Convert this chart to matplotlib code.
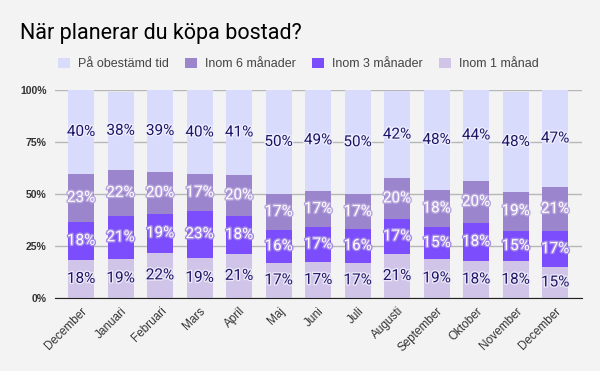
import numpy as np
import matplotlib.pyplot as plt
import matplotlib.patheffects as pe

# data
months = ['December', 'Januari', 'Februari', 'Mars', 'April', 'Maj', 'Juni',
          'Juli', 'Augusti', 'September', 'Oktober', 'November', 'December']
inom_1 = [18.4, 18.9, 21.8, 19.4, 21.3, 17.0, 17.4, 17.0, 21.2, 18.9, 17.9, 17.6, 15.0]
inom_3 = [18.2, 20.6, 18.7, 22.6, 18.2, 15.8, 16.8, 16.2, 16.9, 15.3, 18.3, 14.8, 17.3]
inom_6 = [23.1, 22.1, 20.1, 17.4, 19.7, 17.3, 17.3, 16.6, 19.6, 17.8, 20.1, 18.8, 21.1]
obestamd = [40.3, 37.6, 39.4, 40.4, 40.8, 49.9, 48.6, 50.2, 41.7, 48.0, 43.7, 47.6, 46.6]

series = [
    ('Inom 1 månad', inom_1, '#d0c5e8', '#1c1565', '#ece8f8'),
    ('Inom 3 månader', inom_3, '#7c4dfc', 'white', '#a58ae8'),
    ('Inom 6 månader', inom_6, '#9b85cc', 'white', '#b8a6de'),
    ('På obestämd tid', obestamd, '#d9dbfd', '#1c1565', '#eeeefe'),
]

bg = '#f3f3f3'
fig = plt.figure(figsize=(6, 3.71), dpi=100, facecolor=bg)
ax = fig.add_axes([55 / 600, 1 - 298 / 371, 527 / 600, 208 / 371])
ax.set_facecolor(bg)

x = np.arange(len(months))
bottom = np.zeros(len(months))
handles = {}
for name, vals, color, tcolor, halo in series:
    vals = np.array(vals)
    b = ax.bar(x, vals, 0.66, bottom=bottom, color=color, zorder=3, label=name)
    handles[name] = b
    for xi, v, bo in zip(x, vals, bottom):
        ax.text(xi, bo + v / 2, f'{round(v)}%', ha='center', va='center',
                fontsize=11, color=tcolor, family='Roboto', zorder=5,
                path_effects=[pe.withStroke(linewidth=2, foreground=halo)])
    bottom += vals

ax.set_xlim(-0.66, 12.68)
ax.set_ylim(0, 100)
ax.set_yticks([0, 25, 50, 75, 100])
ax.set_yticklabels(['0%', '25%', '50%', '75%', '100%'], fontsize=7.5,
                   fontweight='bold', color='#333333', family='Liberation Sans')
ax.grid(axis='y', color='#b7b7b7', linewidth=1, zorder=0)
ax.tick_params(axis='y', length=0, pad=6)
ax.set_xticks(x)
ax.set_xticklabels(months, rotation=45, ha='right', rotation_mode='anchor',
                   fontsize=8.5, color='#333333', family='Liberation Sans')
ax.tick_params(axis='x', length=0, pad=5)
for s in ['top', 'right', 'left']:
    ax.spines[s].set_visible(False)
ax.spines['bottom'].set_color('#222222')
ax.spines['bottom'].set_zorder(4)

fig.text(20 / 600, 1 - 33 / 371, 'När planerar du köpa bostad?', fontsize=15.5,
         color='black', family='Roboto', va='center')

order = ['På obestämd tid', 'Inom 6 månader', 'Inom 3 månader', 'Inom 1 månad']
fig.legend([handles[n] for n in order], order, loc='center left',
           bbox_to_anchor=(58 / 600, 1 - 64 / 371), ncol=4, frameon=False,
           prop={'family': 'Liberation Sans', 'size': 9}, labelcolor='#444444',
           handlelength=0.95, handleheight=0.95, handletextpad=0.65,
           columnspacing=1.3, borderaxespad=0, borderpad=0)

fig.savefig('out.png', dpi=100, facecolor=bg)
